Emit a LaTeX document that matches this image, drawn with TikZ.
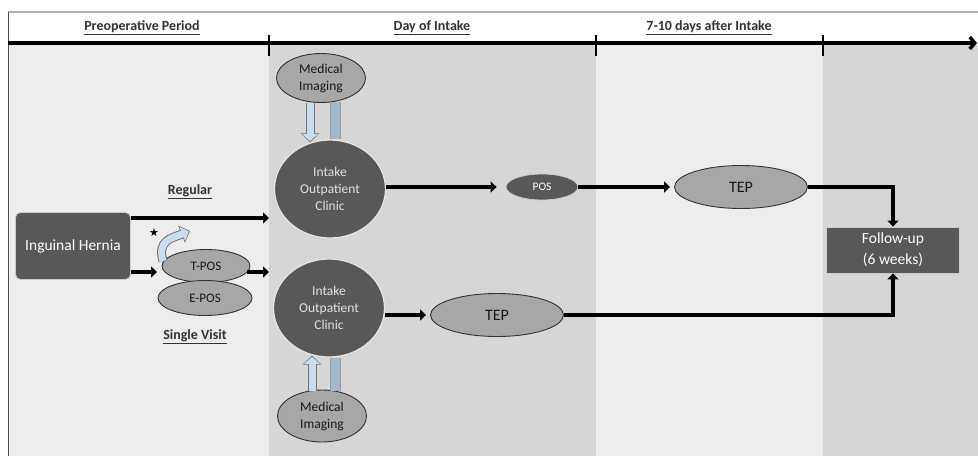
\documentclass[tikz,border=0pt]{standalone}
\usepackage{fontspec}
\setmainfont{Carlito}
\newfontfamily\starfont{DejaVu Sans}
\usetikzlibrary{shapes.geometric,arrows.meta}

\definecolor{darknode}{HTML}{585858}
\definecolor{lightnode}{HTML}{A7A7A7}
\definecolor{colA}{HTML}{ECEDEC}
\definecolor{colB}{HTML}{D6D6D6}
\definecolor{imgblue}{HTML}{C9DDF1}
\definecolor{barblue}{HTML}{A3B7CD}

\begin{document}
\begin{tikzpicture}[
  x=1pt, y=-1pt,
  font=\fontsize{13}{15}\selectfont,
  hdr/.style={font=\fontsize{14}{16}\selectfont\bfseries, text=black!80},
  darkbox/.style={draw=white!80!black, line width=0.8pt, fill=darknode, text=white, align=center, inner sep=0pt},
  clinic/.style={ellipse, draw=white!90!black, line width=1.2pt, fill=darknode, text=white!88!black, align=center,
    minimum width=111pt, minimum height=98pt, inner sep=0pt, font=\fontsize{13.5}{17}\selectfont},
  greyell/.style={ellipse, draw=black!80, line width=0.9pt, fill=lightnode, text=black!90, align=center, inner sep=0pt},
  flow/.style={line width=4pt, -{Triangle[length=6pt,width=11pt]}},
  blockarrow/.style={line width=7pt, draw=imgblue, shorten >=1.2pt, -{Triangle[length=7pt,width=15pt]},
    preaction={draw=black!55, line width=9pt, shorten >=0pt, -{Triangle[length=9pt,width=18pt]}}},
  blockbar/.style={line width=9pt, draw=barblue, preaction={draw=black!40, line width=11pt}}
]
\useasboundingbox (0,0) rectangle (978,456);

% period columns
\fill[white] (0,0) rectangle (978,456);
\fill[colA] (8,45) rectangle (269,456);
\fill[colB] (269,45) rectangle (596,456);
\fill[colA] (596,45) rectangle (823,456);
\fill[colB] (823,45) rectangle (978,456);
\draw[black!30, line width=1.2pt] (8,12) -- (978,12);
\draw[black!70, line width=1pt] (8,12) -- (8,456);

% time line
\coordinate (tl0) at (8,43);
\coordinate (tl1) at (977,43);
\draw[line width=3.5pt, -{Straight Barb[length=5pt,width=12pt]}] (tl0) -- (tl1);
\foreach \x in {269,596,823}
  \draw[line width=1.6pt] (\x,35) -- (\x,56);

\node[hdr] (hpre) at (142,28) {\underline{Preoperative Period}};
\node[hdr] (hday) at (432,28) {\underline{Day of Intake}};
\node[hdr] (hlate) at (709,28) {\underline{7-10 days after Intake}};

% preoperative
\node[darkbox, rounded corners=5pt, minimum width=115pt, minimum height=67pt, font=\fontsize{15.5}{18}\selectfont] (hernia) at (73,246) {Inguinal Hernia};
\node[greyell, minimum width=88pt, minimum height=33pt] (tpos) at (206,266) {T-POS};
\node[greyell, minimum width=94pt, minimum height=35pt] (epos) at (205,298) {E-POS};
\node[hdr] (lreg) at (190,192) {\underline{Regular}};
\node[hdr] (lsv) at (195,337) {\underline{Single Visit}};
\node[font=\starfont\fontsize{11}{11}\selectfont] (star) at (154,233) {★};

% day of intake
\node[clinic] (clinic1) at (330,189) {Intake\\Outpatient\\Clinic};
\node[clinic] (clinic2) at (329,308) {Intake\\Outpatient\\Clinic};
\node[greyell, minimum width=89pt, minimum height=49pt, font=\fontsize{13.5}{17}\selectfont] (img1) at (321,78) {Medical\\Imaging};
\node[greyell, minimum width=89pt, minimum height=52pt, font=\fontsize{13.5}{17}\selectfont] (img2) at (322,416) {Medical\\Imaging};
\node[darkbox, ellipse, minimum width=72pt, minimum height=26pt, font=\fontsize{11.5}{13}\selectfont] (pos) at (542,187) {POS};
\node[greyell, minimum width=133pt, minimum height=43pt, font=\fontsize{16}{18}\selectfont] (tep2) at (497,315) {TEP};

% later
\node[greyell, minimum width=133pt, minimum height=43pt, font=\fontsize{16}{18}\selectfont] (tep1) at (741,187) {TEP};
\node[darkbox, minimum width=133pt, minimum height=46pt, font=\fontsize{15.5}{21}\selectfont] (follow) at (893,250) {Follow-up\\(6 weeks)};

% connectors
\coordinate (regend) at (269,218);
\coordinate (svin) at (157,272);
\coordinate (svout) at (269,272);
\draw[flow] (hernia.east |- regend) -- (regend);
\draw[flow] (hernia.east |- svin) -- (svin);
\draw[flow] ([xshift=-3pt]tpos.east |- svout) -- (svout);
\draw[flow, shorten >=9pt] (clinic1.east |- pos) -- (pos.west);
\draw[flow, shorten >=4pt] (pos.east) -- (tep1.west);
\draw[flow] (tep1.east) -| (follow.north);
\draw[flow, shorten >=4pt] (clinic2.east |- tep2) -- (tep2.west);
\draw[flow] (tep2.east) -| (follow.south);

% imaging
\draw[blockarrow] ([xshift=-11pt]img1.south) -- ([xshift=-20pt,yshift=-3pt]clinic1.north);
\draw[blockbar] ([xshift=14pt,yshift=1pt]img1.south) -- ([xshift=5pt]clinic1.north);
\draw[blockarrow] ([xshift=-10pt,yshift=-1pt]img2.north) -- ([xshift=-17pt,yshift=2pt]clinic2.south);
\draw[blockbar] ([xshift=13pt,yshift=-1pt]img2.north) -- ([xshift=6pt]clinic2.south);

% switch to single visit
\coordinate (cstart) at (163,261);
\coordinate (cend) at (190,231);
\draw[blockarrow] (cstart) .. controls (157,240) and (172,238) .. (cend);
\end{tikzpicture}
\end{document}
